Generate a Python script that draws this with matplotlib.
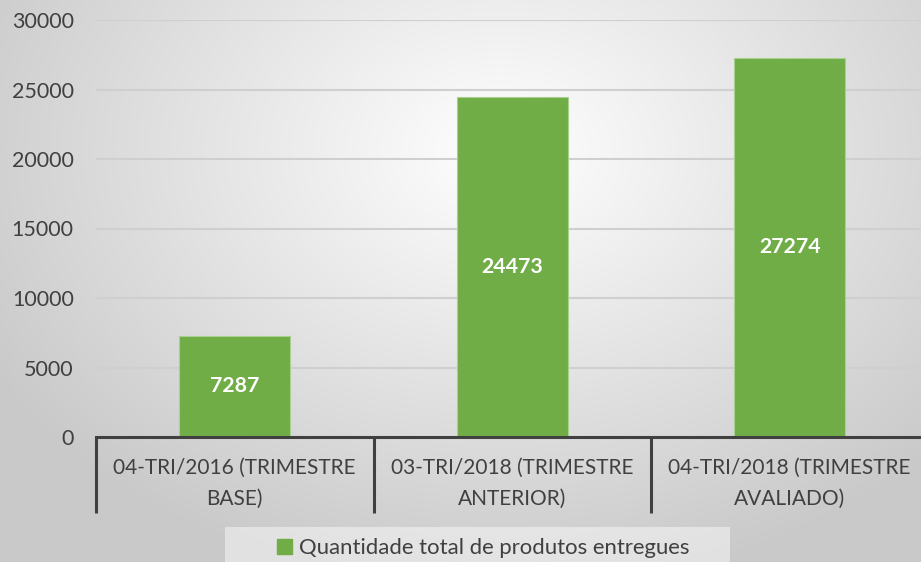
import numpy as np
import matplotlib.pyplot as plt
from matplotlib.patches import Patch, Rectangle

categorias = ['04-TRI/2016 (TRIMESTRE\nBASE)',
              '03-TRI/2018 (TRIMESTRE\nANTERIOR)',
              '04-TRI/2018 (TRIMESTRE\nAVALIADO)']
valores = [7287, 24473, 27274]
serie = 'Quantidade total de produtos entregues'
yticks = [0, 5000, 10000, 15000, 20000, 25000, 30000]

plt.rcParams['font.family'] = ['Lato', 'DejaVu Sans']
verde = '#70ad47'
cinza_txt = '#404040'

W, H = 921, 562
fig = plt.figure(figsize=(W/100, H/100), dpi=100)

# fundo com gradiente radial
bg = fig.add_axes([0, 0, 1, 1], zorder=0)
yy, xx = np.mgrid[0:H, 0:W]
r = np.sqrt(((xx - 500)/560.0)**2 + ((yy - 150)/420.0)**2)
g = np.clip(1.0 - 0.2*r, 0.79, 1.0)
bg.imshow(np.dstack([g, g, g]), extent=[0, 1, 0, 1], aspect='auto')
bg.axis('off')

ax = fig.add_axes([96/W, 1-437/H, (928.5-96)/W, (437-20)/H], zorder=1)
ax.patch.set_alpha(0)
x = np.arange(len(valores))
bars = ax.bar(x, valores, width=0.4, color=verde, edgecolor='#a9d08e',
              linewidth=0.8, zorder=3)
for b, v in zip(bars, valores):
    ax.text(b.get_x()+b.get_width()/2, v/2, str(v), ha='center', va='center',
            color='white', fontsize=15.3, fontweight='bold', zorder=4)

ax.set_xlim(-0.5, 2.5)
ax.set_ylim(0, 30000)
ax.set_yticks(yticks)
ax.set_yticklabels([str(t) for t in yticks], fontsize=15.5, color=cinza_txt)
ax.tick_params(axis='y', length=0, pad=16)
ax.set_xticks([])
ax.grid(axis='y', color='#cfcfcf', linewidth=1.5, zorder=0)
for s in ['top', 'right', 'left']:
    ax.spines[s].set_visible(False)
ax.spines['bottom'].set_color(cinza_txt)
ax.spines['bottom'].set_linewidth(2.2)
ax.spines['bottom'].set_zorder(5)

trans = ax.get_xaxis_transform()
for xs in [-0.5, 0.5, 1.5, 2.5]:
    ax.plot([xs, xs], [0, -(513-437)/417], transform=trans, color=cinza_txt,
            lw=2.2, clip_on=False, solid_capstyle='butt', zorder=5)
for xi, c in zip(x, categorias):
    ax.text(xi, -(483-437)/417, c, transform=trans, ha='center', va='center',
            fontsize=15, color=cinza_txt, linespacing=1.7)

# caixa da legenda
fig.patches.append(Rectangle((225/W, 0), (730-225)/W, (562-527)/H,
                             transform=fig.transFigure, facecolor='white',
                             alpha=0.45, edgecolor='none', zorder=1))
fig.legend(handles=[Patch(color=verde, label=serie)], loc='center',
           bbox_to_anchor=(483/W, 1-548/H), fontsize=15.9,
           handlelength=0.7, handleheight=0.7, handletextpad=0.3,
           frameon=False, labelcolor=cinza_txt)

fig.savefig('out.png', dpi=100)
